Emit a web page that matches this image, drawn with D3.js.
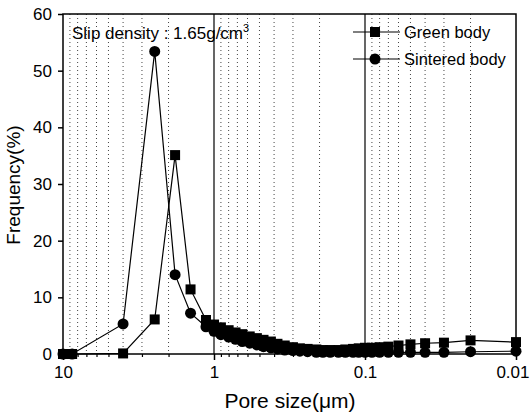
<!DOCTYPE html>
<html><head><meta charset="utf-8">
<script src="https://cdn.jsdelivr.net/npm/d3@7"></script>
<style>body{margin:0;background:#fff}svg{display:block;font-family:"Liberation Sans",Arial,sans-serif}</style>
</head><body><svg id="c" width="530" height="413"></svg>
<script>
const poreSize = [10, 8.7, 4, 2.47, 1.81, 1.43, 1.13, 1.0, 0.9, 0.8, 0.72, 0.65, 0.58, 0.52, 0.47, 0.42, 0.38, 0.34, 0.3, 0.27, 0.24, 0.21, 0.19, 0.17, 0.15, 0.135, 0.12, 0.11, 0.1, 0.09, 0.08, 0.07, 0.06, 0.05, 0.04, 0.03, 0.02, 0.01];
const greenBody = [0, 0, 0.1, 6.1, 35.1, 11.4, 6.0, 5.2, 4.7, 4.2, 3.8, 3.5, 3.1, 2.8, 2.5, 2.2, 1.8, 1.5, 1.2, 1.0, 0.9, 0.8, 0.7, 0.7, 0.7, 0.8, 0.9, 1.0, 1.1, 1.1, 1.2, 1.3, 1.5, 1.7, 1.9, 2.0, 2.4, 2.1];
const sinteredBody = [0, 0, 5.3, 53.4, 14.0, 7.2, 4.8, 4.0, 3.4, 3.0, 2.6, 2.2, 1.9, 1.6, 1.3, 1.1, 0.9, 0.7, 0.6, 0.5, 0.4, 0.3, 0.3, 0.3, 0.3, 0.3, 0.3, 0.3, 0.3, 0.3, 0.3, 0.3, 0.3, 0.3, 0.3, 0.3, 0.4, 0.5];
const xMajorTicks = [10, 1, 0.1, 0.01];
const xTickLabels = ["10", "1", "0.1", "0.01"];
const yTicks = [0, 10, 20, 30, 40, 50, 60];
const seriesNames = ["Green body", "Sintered body"];

const svg = d3.select("#c");
const L = 63, R = 516, T = 14, B = 354;
const x = d3.scaleLog().domain([10, 0.01]).range([L, R]);
const y = d3.scaleLinear().domain([0, 60]).range([B, T]);

const minors = [];
for (let i = 0; i < xMajorTicks.length - 1; i++) {
  const base = xMajorTicks[i + 1];
  for (let m = 2; m <= 9; m++) minors.push(+(base * m).toPrecision(3));
}
svg.append("g").selectAll("line").data(minors).join("line")
  .attr("x1", d => x(d)).attr("x2", d => x(d)).attr("y1", T).attr("y2", B)
  .attr("stroke", "#444").attr("stroke-width", 1).attr("stroke-dasharray", "1,3");
svg.append("g").selectAll("line").data([1, 0.1]).join("line")
  .attr("x1", d => x(d)).attr("x2", d => x(d)).attr("y1", T).attr("y2", B)
  .attr("stroke", "#000").attr("stroke-width", 1.2);
svg.append("rect").attr("x", L).attr("y", T).attr("width", R - L).attr("height", B - T)
  .attr("fill", "none").attr("stroke", "#000").attr("stroke-width", 1.5);

const gx = svg.append("g").attr("transform", `translate(0,${B})`)
  .call(d3.axisBottom(x).tickValues(xMajorTicks).tickSize(6).tickFormat((d, i) => xTickLabels[i]));
gx.select(".domain").remove();
gx.selectAll("line").attr("stroke-width", 1.5);
gx.selectAll("text").attr("font-size", 17).attr("dy", "0.9em").attr("fill", "#000");
gx.selectAll("text").filter(d => d === 0.01).attr("text-anchor", "end").attr("x", 13);
const gxm = svg.append("g").attr("transform", `translate(0,${B})`)
  .call(d3.axisBottom(x).tickValues(minors).tickSize(3).tickFormat(""));
gxm.select(".domain").remove();
gxm.selectAll("line").attr("stroke-width", 1.2);

const gy = svg.append("g").attr("transform", `translate(${L},0)`)
  .call(d3.axisLeft(y).tickValues(yTicks).tickSize(5));
gy.select(".domain").remove();
gy.selectAll("line").attr("stroke-width", 1.5);
gy.selectAll("text").attr("font-size", 17).attr("fill", "#000").attr("x", -11);

svg.append("text").attr("x", 290).attr("y", 408).attr("text-anchor", "middle")
  .attr("font-size", 21).text("Pore size(\u03bcm)");
svg.append("text").attr("transform", "translate(20,185) rotate(-90)")
  .attr("text-anchor", "middle").attr("font-size", 19).text("Frequency(%)");

const line = d3.line().x(d => x(d[0])).y(d => y(d[1]));
const gData = poreSize.map((p, i) => [p, greenBody[i]]);
const sData = poreSize.map((p, i) => [p, sinteredBody[i]]);
svg.append("path").datum(gData).attr("d", line).attr("fill", "none").attr("stroke", "#000").attr("stroke-width", 1.2);
svg.append("path").datum(sData).attr("d", line).attr("fill", "none").attr("stroke", "#000").attr("stroke-width", 1.2);
svg.append("g").selectAll("rect").data(gData).join("rect")
  .attr("x", d => x(d[0]) - 5).attr("y", d => y(d[1]) - 5).attr("width", 10).attr("height", 10).attr("fill", "#000");
svg.append("g").selectAll("circle").data(sData).join("circle")
  .attr("cx", d => x(d[0])).attr("cy", d => y(d[1])).attr("r", 5.5).attr("fill", "#000");

const ann = svg.append("text").attr("x", 72).attr("y", 39).attr("font-size", 17);
ann.append("tspan").text("Slip density : 1.65g/cm");
ann.append("tspan").attr("dy", -7).attr("font-size", 11).text("3");

const lg = svg.append("g");
[0, 1].forEach(i => {
  const cy = 32 + i * 27;
  lg.append("line").attr("x1", 353).attr("x2", 400).attr("y1", cy).attr("y2", cy).attr("stroke", "#000").attr("stroke-width", 1.2);
  if (i === 0) lg.append("rect").attr("x", 370).attr("y", cy - 5).attr("width", 10).attr("height", 10).attr("fill", "#000");
  else lg.append("circle").attr("cx", 375).attr("cy", cy).attr("r", 5.5).attr("fill", "#000");
  lg.append("text").attr("x", 404).attr("y", cy + 6).attr("font-size", 16.5).text(seriesNames[i]);
});
</script></body></html>
